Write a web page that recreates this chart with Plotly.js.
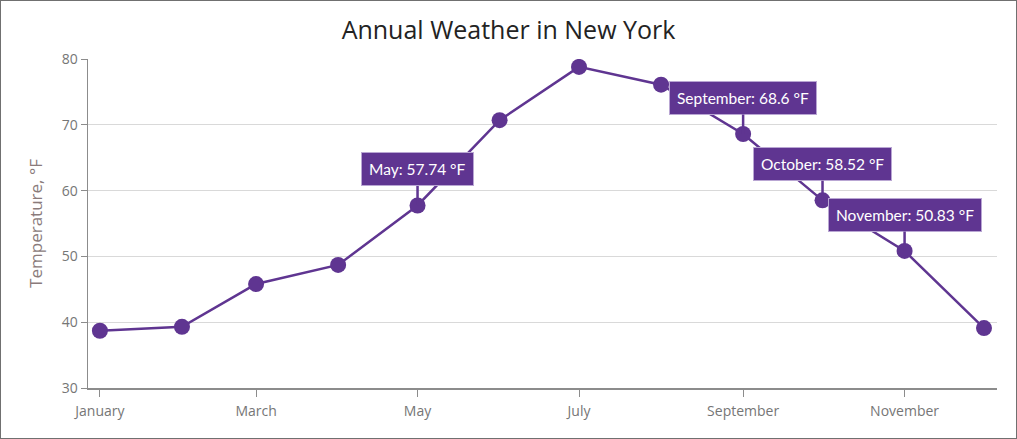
<!DOCTYPE html>
<html>
<head>
<meta charset="utf-8">
<script src="https://cdn.plot.ly/plotly-3.0.1.min.js"></script>
<style>
html,body{margin:0;padding:0;background:#fff;}
#chart{width:1015px;height:437px;border:1px solid #707070;}
</style>
</head>
<body>
<div id="chart"></div>
<script>
const months = ['January','February','March','April','May','June','July','August','September','October','November','December'];
const monthDates = ['2017-01-01','2017-02-01','2017-03-01','2017-04-01','2017-05-01','2017-06-01','2017-07-01','2017-08-01','2017-09-01','2017-10-01','2017-11-01','2017-12-01'];
const temperatures = [38.7, 39.3, 45.8, 48.7, 57.74, 70.7, 78.8, 76.1, 68.6, 58.52, 50.83, 39.1];
const tickMonths = ['January','March','May','July','September','November'];
const labeledMonths = ['May','September','October','November'];
const titleText = 'Annual Weather in New York';
const yTitle = 'Temperature, °F';

const purple = '#5f3591';

const annotations = labeledMonths.map(m => {
  const i = months.indexOf(m);
  return {
    x: monthDates[i], y: temperatures[i], xref: 'x', yref: 'y',
    text: m + ': ' + temperatures[i] + ' °F',
    showarrow: true, arrowhead: 0, arrowwidth: 2.5, arrowcolor: purple,
    ax: 0, ay: -36,
    bgcolor: purple, bordercolor: '#b9a6d3', borderwidth: 1, borderpad: 7,
    font: {family: 'Lato, "Noto Sans", sans-serif', size: 15.5, color: '#ffffff'}
  };
});

const trace = {
  x: monthDates, y: temperatures, type: 'scatter', mode: 'lines+markers',
  line: {color: purple, width: 2.5},
  marker: {color: purple, size: 16},
  hoverinfo: 'x+y'
};

const tickDates = tickMonths.map(m => monthDates[months.indexOf(m)]);

const layout = {
  width: 1015, height: 437,
  margin: {l: 87, r: 19, t: 58, b: 50},
  paper_bgcolor: '#ffffff', plot_bgcolor: '#ffffff',
  showlegend: false,
  title: {text: titleText, x: 0.5, xanchor: 'center', yref: 'container', y: 1 - 29/437, yanchor: 'middle',
          font: {family: '"Open Sans", "Noto Sans", sans-serif', size: 25, color: '#232323'}},
  xaxis: {
    type: 'date', range: ['2016-12-27 12:00', '2017-12-05 22:00'],
    tickmode: 'array', tickvals: tickDates, ticktext: tickMonths,
    showgrid: false, zeroline: false,
    showline: true, linecolor: '#8c8c8c', linewidth: 1.5,
    ticks: 'outside', ticklen: 7, tickcolor: '#8c8c8c', tickwidth: 1,
    ticklabelstandoff: 3,
    tickfont: {family: '"Open Sans", "Noto Sans", sans-serif', size: 14, color: '#767676'}
  },
  yaxis: {
    range: [30, 80], tickvals: [30,40,50,60,70,80],
    showgrid: true, gridcolor: '#d9d9d9', gridwidth: 1, zeroline: false,
    showline: true, linecolor: '#8c8c8c', linewidth: 1.5,
    ticks: 'outside', ticklen: 6, tickcolor: '#8c8c8c',
    tickfont: {family: '"Open Sans", "Noto Sans", sans-serif', size: 14, color: '#767676'},
    title: {text: yTitle, standoff: 14,
            font: {family: '"Open Sans", "Noto Sans", sans-serif', size: 17, color: '#8a7b7b'}}
  },
  annotations: annotations
};

Plotly.newPlot('chart', [trace], layout, {displayModeBar: false, staticPlot: true});
</script>
</body>
</html>
